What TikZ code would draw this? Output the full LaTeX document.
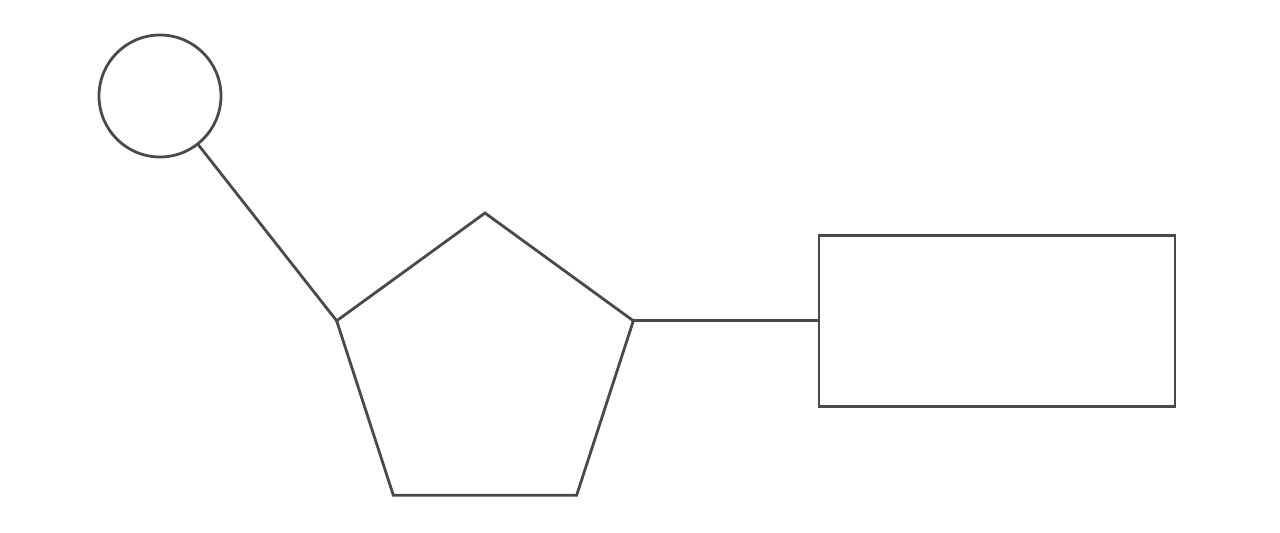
\documentclass[tikz,border=0pt]{standalone}
\usetikzlibrary{shapes.geometric}
\definecolor{linegray}{HTML}{4A4A4A}
\begin{document}
\begin{tikzpicture}[x=0.02cm,y=-0.02cm]
\tikzset{every node/.style={draw=linegray,line width=1.6pt,inner sep=0pt,outer sep=0pt},
  ring/.style={circle,minimum size=2.44cm},
  penta/.style={regular polygon,regular polygon sides=5,minimum size=6.24cm},
  block/.style={rectangle,minimum width=7.12cm,minimum height=3.42cm}}
\useasboundingbox (0,0) rectangle (1280,533);
% shapes
\node [ring] (ball) at (160,96) {};
\node [penta] (pent) at (485,369) {};
\node [block] (box) at (997,321) {};
% connectors
\draw [linegray,line width=1.6pt] (ball) -- (pent.corner 2);
\draw [linegray,line width=1.6pt] (pent.corner 5) -- (pent.corner 5 -| box.west);
\end{tikzpicture}
\end{document}
